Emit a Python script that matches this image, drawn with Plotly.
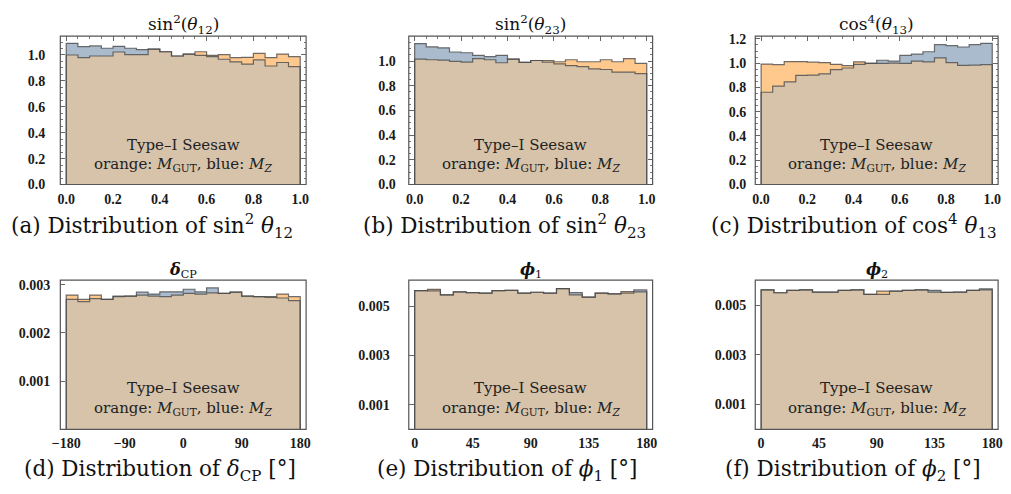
import numpy as np
import plotly.graph_objects as go

# ---------------- data (normalised histogram heights) ----------------
# sin^2(theta12), 20 bins on [0,1]
s12_gut = [1.000, 0.980, 0.992, 0.992, 1.023, 1.002, 1.002, 1.045, 1.025, 0.992,
           1.007, 1.025, 0.997, 1.002, 0.980, 0.982, 1.012, 0.980, 1.007, 0.987]
s12_mz = [1.090, 1.065, 1.070, 1.052, 1.067, 1.052, 1.042, 1.045, 1.025, 0.992,
          1.007, 0.997, 0.987, 0.967, 0.947, 0.930, 0.962, 0.915, 0.942, 0.910]
# sin^2(theta23), 20 bins on [0,1]
s23_gut = [1.016, 1.011, 1.008, 0.998, 0.992, 1.021, 1.011, 0.987, 1.016, 0.990,
           1.005, 1.005, 0.995, 1.011, 0.995, 0.995, 1.011, 0.995, 1.021, 0.982]
s23_mz = [1.142, 1.116, 1.108, 1.074, 1.068, 1.047, 1.037, 1.047, 1.016, 0.990,
          1.005, 0.992, 0.977, 0.963, 0.956, 0.937, 0.932, 0.911, 0.911, 0.898]
# cos^4(theta13), 20 bins on [0,1]
c13_gut = [0.992, 0.987, 1.013, 1.013, 1.008, 1.005, 0.990, 0.979, 1.011, 0.997,
           0.998, 1.000, 0.998, 1.016, 1.011, 1.043, 1.005, 0.981, 0.984, 0.987]
c13_mz = [0.760, 0.811, 0.845, 0.899, 0.901, 0.912, 0.947, 0.960, 0.990, 1.000,
          1.024, 1.016, 1.064, 1.074, 1.094, 1.152, 1.144, 1.133, 1.152, 1.163]
# delta_CP, 20 bins on [-180,180]
dcp_gut = [0.002785, 0.002698, 0.002785, 0.002698, 0.002752, 0.002765, 0.002785, 0.002765,
           0.002752, 0.002785, 0.002819, 0.002805, 0.002832, 0.002819, 0.002846, 0.002765,
           0.002752, 0.002752, 0.002805, 0.002752]
dcp_mz = [0.002698, 0.002651, 0.002711, 0.002698, 0.002765, 0.002765, 0.002846, 0.002805,
          0.002853, 0.002853, 0.002906, 0.002853, 0.002933, 0.002819, 0.002846, 0.002765,
          0.002752, 0.002738, 0.002725, 0.002671]
# phi1, 18 bins on [0,180]
phi1_gut = [0.005635, 0.005688, 0.005463, 0.005582, 0.005556, 0.005529, 0.005635, 0.005648, 0.005529,
            0.005569, 0.005529, 0.005714, 0.005463, 0.005370, 0.005529, 0.005503, 0.005595, 0.005582]
phi1_mz = [0.005635, 0.005622, 0.005463, 0.005582, 0.005556, 0.005529, 0.005635, 0.005648, 0.005529,
           0.005569, 0.005529, 0.005714, 0.005556, 0.005370, 0.005529, 0.005503, 0.005529, 0.005661]
# phi2, 18 bins on [0,180]
phi2_gut = [0.005610, 0.005493, 0.005585, 0.005610, 0.005520, 0.005520, 0.005585, 0.005610, 0.005428,
            0.005559, 0.005559, 0.005585, 0.005610, 0.005520, 0.005507, 0.005520, 0.005585, 0.005610]
phi2_mz = [0.005610, 0.005493, 0.005585, 0.005610, 0.005520, 0.005520, 0.005585, 0.005610, 0.005428,
           0.005428, 0.005559, 0.005585, 0.005610, 0.005585, 0.005507, 0.005520, 0.005585, 0.005651]

titles = ["sin<sup>2</sup>(<i>θ</i><sub>12</sub>)", "sin<sup>2</sup>(<i>θ</i><sub>23</sub>)",
          "cos<sup>4</sup>(<i>θ</i><sub>13</sub>)", "<b><i>δ</i></b><sub>CP</sub>",
          "<b><i>ϕ</i></b><sub>1</sub>", "<b><i>ϕ</i></b><sub>2</sub>"]
captions = ["(a) Distribution of sin<sup>2</sup> <i>θ</i><sub>12</sub>",
            "(b) Distribution of sin<sup>2</sup> <i>θ</i><sub>23</sub>",
            "(c) Distribution of cos<sup>4</sup> <i>θ</i><sub>13</sub>",
            "(d) Distribution of <i>δ</i><sub>CP</sub> [°]",
            "(e) Distribution of <i>ϕ</i><sub>1</sub> [°]",
            "(f) Distribution of <i>ϕ</i><sub>2</sub> [°]"]
line1 = "Type–I Seesaw"
line2 = "orange: <i>M</i><sub>GUT</sub>, blue: <i>M</i><sub><i>Z</i></sub>"

x_ticks_unit = [0, 0.2, 0.4, 0.6, 0.8, 1.0]
x_ticks_dcp = [-180, -90, 0, 90, 180]
x_ticks_phi = [0, 45, 90, 135, 180]
y_ticks_12 = [0, 0.2, 0.4, 0.6, 0.8, 1.0]
y_ticks_13 = [0, 0.2, 0.4, 0.6, 0.8, 1.0, 1.2]
y_ticks_dcp = [0.001, 0.002, 0.003]
y_ticks_phi = [0.001, 0.003, 0.005]

# ---------------- styling / layout ----------------
W, H = 1011, 494
ORANGE = "#ffc98e"
BLUE = "#a9bbcd"
BOTH = "#d7c3aa"
EDGE = "rgba(75,75,75,0.8)"
FRAME = "#555555"
SERIF = '"Liberation Serif", "Times New Roman", serif'
DSERIF = '"DejaVu Serif", "Liberation Serif", serif'
TICKFONT = dict(family=SERIF, size=14, color="#1a1a1a", weight="bold")

panels = [
    dict(g=s12_gut, m=s12_mz, lo=0, hi=1, ymax=1.145, xt=x_ticks_unit, yt=y_ticks_12, xf=".1f", yf=".1f", minor=True, so=14),
    dict(g=s23_gut, m=s23_mz, lo=0, hi=1, ymax=1.202, xt=x_ticks_unit, yt=y_ticks_12, xf=".1f", yf=".1f", minor=True, so=12),
    dict(g=c13_gut, m=c13_mz, lo=0, hi=1, ymax=1.222, xt=x_ticks_unit, yt=y_ticks_13, xf=".1f", yf=".1f", minor=True, so=8),
    dict(g=dcp_gut, m=dcp_mz, lo=-180, hi=180, ymax=0.003095, xt=x_ticks_dcp, yt=y_ticks_dcp, xf="d", yf=".3f", minor=False, so=9),
    dict(g=phi1_gut, m=phi1_mz, lo=0, hi=180, ymax=0.00606, xt=x_ticks_phi, yt=y_ticks_phi, xf="d", yf=".3f", minor=False, so=18),
    dict(g=phi2_gut, m=phi2_mz, lo=0, hi=180, ymax=0.00600, xt=x_ticks_phi, yt=y_ticks_phi, xf="d", yf=".3f", minor=False, so=8),
]

col_px = [(53, 302), (406, 653), (757, 1003)]
row_px = [(33, 185), (283, 436)]
caption_x = [146, 503, 857, 154, 505, 856]
caption_y = [228, 478]
title_y = [21, 273]
title_size = [17, 16]
text1_y = [144, 394]
text2_y = [165, 415]


def step_path(edges, vals):
    xs = [edges[0], edges[0]] + list(edges[1:-1]) + [edges[-1], edges[-1]]
    ys = [0, vals[0]] + list(vals[1:]) + [vals[-1], 0]
    return xs, ys


fig = go.Figure()
layout = dict(width=W, height=H, margin=dict(l=0, r=0, t=0, b=0),
              paper_bgcolor="white", plot_bgcolor="white", showlegend=False)
annotations = []
shapes = []

for i, p in enumerate(panels):
    r, c = divmod(i, 3)
    sfx = "" if i == 0 else str(i + 1)
    xa, ya = "x" + sfx, "y" + sfx
    g = np.array(p["g"])
    m = np.array(p["m"])
    edges = np.linspace(p["lo"], p["hi"], len(g) + 1)
    both = np.minimum(g, m)
    for vals, col in ((g, ORANGE), (m, BLUE), (both, BOTH)):
        xs, ys = step_path(edges, vals)
        fig.add_trace(go.Scatter(x=xs, y=ys, mode="lines", line=dict(width=0, shape="hv"),
                                 fill="tozeroy", fillcolor=col, hoverinfo="skip",
                                 xaxis=xa, yaxis=ya))
    for vals in (g, m):
        xs, ys = step_path(edges, vals)
        fig.add_trace(go.Scatter(x=xs, y=ys, mode="lines", line=dict(width=1.2, shape="hv", color=EDGE),
                                 hoverinfo="skip", xaxis=xa, yaxis=ya))

    span = p["hi"] - p["lo"]
    pad = span * 6 / 237
    x0p, x1p = col_px[c]
    y0p, y1p = row_px[r]
    xdom = [x0p / W, x1p / W]
    ydom = [1 - y1p / H, 1 - y0p / H]
    xaxis = dict(domain=xdom, anchor=ya, range=[p["lo"] - pad, p["hi"] + pad],
                 tickvals=p["xt"], tickformat=p["xf"], ticks="inside", ticklen=5,
                 tickcolor="#666666", tickwidth=1, showgrid=False, zeroline=False,
                 showline=False, tickfont=TICKFONT, layer="below traces",
                 mirror="allticks" if p["minor"] else False, ticklabelstandoff=4)
    yaxis = dict(domain=ydom, anchor=xa, range=[0, p["ymax"]],
                 tickvals=p["yt"], tickformat=p["yf"], ticks="inside", ticklen=5,
                 tickcolor="#666666", tickwidth=1, showgrid=False, zeroline=False,
                 showline=False, tickfont=TICKFONT, layer="below traces",
                 mirror="allticks" if p["minor"] else False, ticklabelstandoff=p["so"])
    if p["minor"]:
        xaxis["minor"] = dict(dtick=0.05, tick0=0, ticks="inside", ticklen=2.5, tickcolor="#777777")
        yaxis["minor"] = dict(dtick=0.05, tick0=0, ticks="inside", ticklen=2.5, tickcolor="#777777")
    layout["xaxis" + sfx] = xaxis
    layout["yaxis" + sfx] = yaxis

    shapes.append(dict(type="rect", xref=xa + " domain", yref=ya + " domain", x0=0, x1=1, y0=0, y1=1,
                       line=dict(color=FRAME, width=1.2), fillcolor="rgba(0,0,0,0)", layer="above"))

    cx = (x0p + x1p) / 2 / W
    annotations.append(dict(text=titles[i], x=cx, y=1 - title_y[r] / H, xref="paper", yref="paper",
                            showarrow=False, xanchor="center", yanchor="middle",
                            font=dict(family=DSERIF, size=title_size[r], color="#111111")))
    annotations.append(dict(text=line1, x=cx, y=1 - text1_y[r] / H, xref="paper", yref="paper",
                            showarrow=False, xanchor="center", yanchor="middle",
                            font=dict(family=DSERIF, size=15, color="#222222")))
    annotations.append(dict(text=line2, x=cx, y=1 - text2_y[r] / H, xref="paper", yref="paper",
                            showarrow=False, xanchor="center", yanchor="middle",
                            font=dict(family=DSERIF, size=15, color="#222222")))
    annotations.append(dict(text=captions[i], x=caption_x[i] / W, y=1 - caption_y[r] / H,
                            xref="paper", yref="paper", showarrow=False, xanchor="center",
                            yanchor="middle",
                            font=dict(family=DSERIF, size=21.5, color="#111111")))

layout["annotations"] = annotations
layout["shapes"] = shapes
fig.update_layout(**layout)
fig.write_html("out.html")
